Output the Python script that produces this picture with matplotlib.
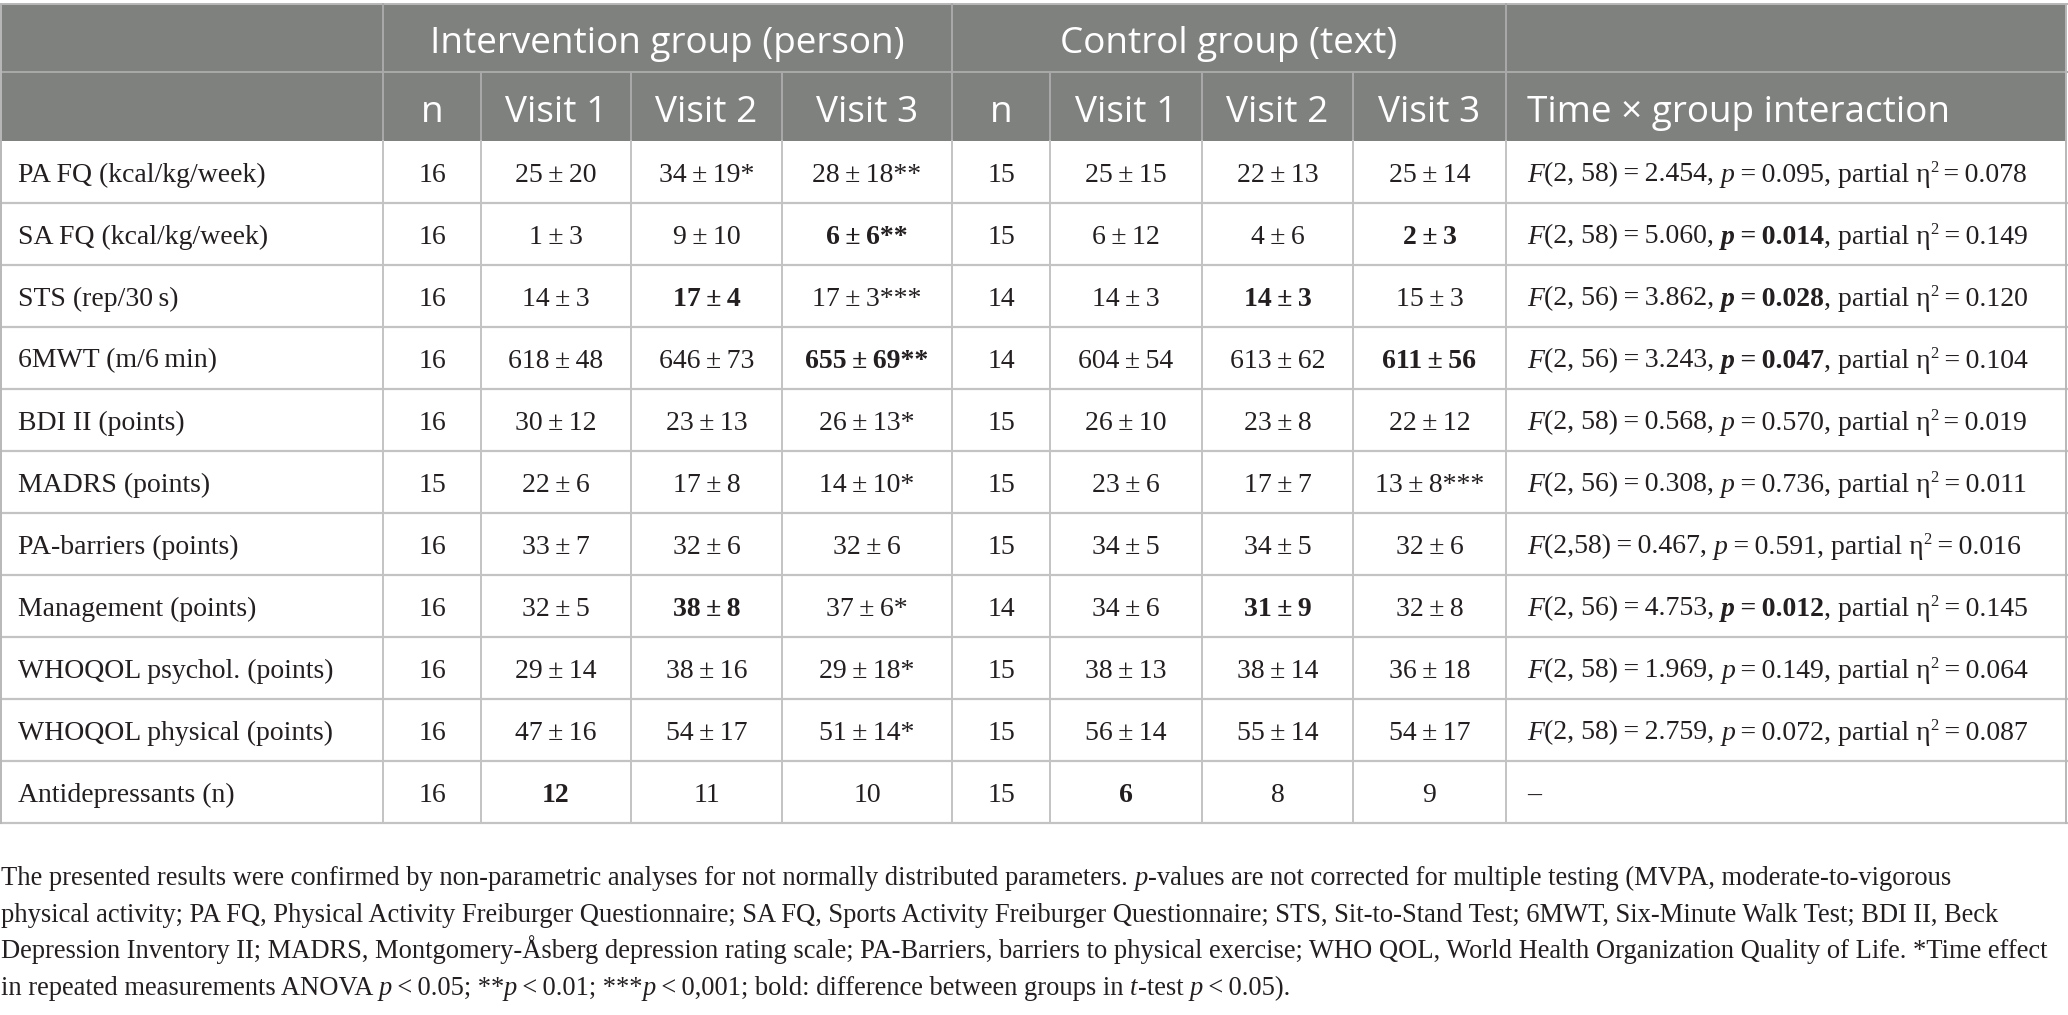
import matplotlib
matplotlib.use("Agg")
import matplotlib.pyplot as plt
from matplotlib.patches import Rectangle

### DATA ###

row_labels = ["PA FQ (kcal/kg/week)", "SA FQ (kcal/kg/week)", "STS (rep/30\u2009s)",
              "6MWT (m/6\u2009min)", "BDI II (points)", "MADRS (points)",
              "PA-barriers (points)", "Management (points)", "WHOQOL psychol. (points)",
              "WHOQOL physical (points)", "Antidepressants (n)"]

n_interv = ["16", "16", "16", "16", "16", "15", "16", "16", "16", "16", "16"]
interv_v1 = ["25 ± 20", "1 ± 3", "14 ± 3", "618 ± 48", "30 ± 12", "22 ± 6", "33 ± 7", "32 ± 5", "29 ± 14", "47 ± 16", "12"]
interv_v2 = ["34 ± 19*", "9 ± 10", "17 ± 4", "646 ± 73", "23 ± 13", "17 ± 8", "32 ± 6", "38 ± 8", "38 ± 16", "54 ± 17", "11"]
interv_v3 = ["28 ± 18**", "6 ± 6**", "17 ± 3***", "655 ± 69**", "26 ± 13*", "14 ± 10*", "32 ± 6", "37 ± 6*", "29 ± 18*", "51 ± 14*", "10"]

n_ctrl = ["15", "15", "14", "14", "15", "15", "15", "14", "15", "15", "15"]
ctrl_v1 = ["25 ± 15", "6 ± 12", "14 ± 3", "604 ± 54", "26 ± 10", "23 ± 6", "34 ± 5", "34 ± 6", "38 ± 13", "56 ± 14", "6"]
ctrl_v2 = ["22 ± 13", "4 ± 6", "14 ± 3", "613 ± 62", "23 ± 8", "17 ± 7", "34 ± 5", "31 ± 9", "38 ± 14", "55 ± 14", "8"]
ctrl_v3 = ["25 ± 14", "2 ± 3", "15 ± 3", "611 ± 56", "22 ± 12", "13 ± 8***", "32 ± 6", "32 ± 8", "36 ± 18", "54 ± 17", "9"]

# bold cells (row index, column index) -- column 0 = label column
bold_cells = [(1, 4), (1, 8), (2, 3), (2, 7), (3, 4), (3, 8), (7, 3), (7, 7), (10, 2), (10, 6)]

# time x group interaction
f_df = ["2, 58", "2, 58", "2, 56", "2, 56", "2, 58", "2, 56", "2,58", "2, 56", "2, 58", "2, 58"]
f_val = ["2.454", "5.060", "3.862", "3.243", "0.568", "0.308", "0.467", "4.753", "1.969", "2.759"]
p_val = ["0.095", "0.014", "0.028", "0.047", "0.570", "0.736", "0.591", "0.012", "0.149", "0.072"]
p_bold = [False, True, True, True, False, False, False, True, False, False]
eta2 = ["0.078", "0.149", "0.120", "0.104", "0.019", "0.011", "0.016", "0.145", "0.064", "0.087"]

group_headers = ["Intervention group (person)", "Control group (text)"]
col_headers = ["n", "Visit 1", "Visit 2", "Visit 3", "n", "Visit 1", "Visit 2", "Visit 3"]
inter_header = "Time × group interaction"

footnote = [
    [("The presented results were confirmed by non-parametric analyses for not normally distributed parameters. ", ""),
     ("p", "i"), ("-values are not corrected for multiple testing (MVPA, moderate-to-vigorous", "")],
    [("physical activity; PA FQ, Physical Activity Freiburger Questionnaire; SA FQ, Sports Activity Freiburger "
      "Questionnaire; STS, Sit-to-Stand Test; 6MWT, Six-Minute Walk Test; BDI II, Beck", "")],
    [("Depression Inventory II; MADRS, Montgomery-Åsberg depression rating scale; PA-Barriers, barriers to physical "
      "exercise; WHO QOL, World Health Organization Quality of Life. *Time effect", "")],
    [("in repeated measurements ANOVA ", ""), ("p", "i"), ("\u2009<\u20090.05; **", ""), ("p", "i"),
     ("\u2009<\u20090.01; ***", ""), ("p", "i"), ("\u2009<\u20090,001; bold: difference between groups in ", ""),
     ("t", "i"), ("-test ", ""), ("p", "i"), ("\u2009<\u20090.05).", "")],
]

### LAYOUT ###

W, H = 2068, 1015
col_x = [0, 383, 481, 631, 782, 952, 1050, 1202, 1353, 1506, W]
y_top, y_h1, y_h2 = 4, 72, 141
row_h = 62
n_rows = len(row_labels)
y_bottom = y_h2 + row_h * n_rows

serif = ["Liberation Serif", "DejaVu Serif"]
sans = ["Open Sans", "DejaVu Sans"]
fs_body = 20
fs_note = 19.1
fs_head = 26.6
txt_col = "#231f20"
head_bg = "#7f817f"
head_line = "#a9aaa9"
grid_col = "#c3c3c3"

fig = plt.figure(figsize=(W / 100, H / 100), dpi=100)
ax = fig.add_axes([0, 0, 1, 1])
ax.set_xlim(0, W)
ax.set_ylim(H, 0)
ax.axis("off")
renderer = fig.canvas.get_renderer()


def style(code, size=fs_body):
    kw = dict(family=serif, fontsize=size, color=txt_col)
    if "i" in code:
        kw["fontstyle"] = "italic"
    if "b" in code:
        kw["fontweight"] = "bold"
    return kw


def text_width(s, kw):
    # measure with guards so leading/trailing spaces count
    t1 = ax.text(0, 0, "|" + s + "|", **kw)
    t2 = ax.text(0, 0, "||", **kw)
    w = t1.get_window_extent(renderer).width - t2.get_window_extent(renderer).width
    t1.remove()
    t2.remove()
    return w


def draw_runs(x, y, runs):
    for s, code, dy, size in runs:
        kw = style(code, size)
        ax.text(x, y + dy, s, ha="left", va="baseline", **kw)
        x += text_width(s, kw)
    return x


# header background
ax.add_patch(Rectangle((0, y_top), W - 2, y_h2 - y_top, facecolor=head_bg, edgecolor="none", zorder=0))
ax.plot([0, W], [y_top, y_top], color="#b8b8b8", lw=1.4)
ax.plot([0, W], [y_h1, y_h1], color=head_line, lw=1.4)
for xv in [col_x[1], col_x[5], col_x[9]]:
    ax.plot([xv, xv], [y_top, y_h1], color=head_line, lw=1.4)
for xv in col_x[1:-1]:
    ax.plot([xv, xv], [y_h1, y_h2], color=head_line, lw=1.4)

# body grid
for i in range(1, n_rows + 1):
    yy = y_h2 + i * row_h
    ax.plot([0, W], [yy, yy], color=grid_col, lw=1.6)
for xv in col_x[1:-1]:
    ax.plot([xv, xv], [y_h2, y_bottom], color=grid_col, lw=1.4)
# outer left / right borders
for xv in [0.8, W - 2]:
    ax.plot([xv, xv], [y_top, y_bottom], color="#b8b8b8", lw=1.4)

# header text
ax.text((col_x[1] + col_x[5]) / 2, 53, group_headers[0], ha="center", va="baseline",
        family=sans, fontsize=fs_head, color="white")
ax.text((col_x[5] + col_x[9]) / 2, 53, group_headers[1], ha="center", va="baseline",
        family=sans, fontsize=fs_head, color="white")
for j, h in enumerate(col_headers):
    ax.text((col_x[j + 1] + col_x[j + 2]) / 2, 122, h, ha="center", va="baseline",
            family=sans, fontsize=fs_head, color="white")
ax.text(col_x[9] + 21, 122, inter_header, ha="left", va="baseline",
        family=sans, fontsize=fs_head, color="white")

# body text
columns = [n_interv, interv_v1, interv_v2, interv_v3, n_ctrl, ctrl_v1, ctrl_v2, ctrl_v3]
for i in range(n_rows):
    yb = y_h2 + i * row_h + row_h / 2 + 9.5
    ax.text(18, yb, row_labels[i], ha="left", va="baseline", **style(""))
    for j, col in enumerate(columns):
        code = "b" if (i, j + 1) in bold_cells else ""
        s = col[i].replace(" ± ", "\u2009±\u2009")
        ax.text((col_x[j + 1] + col_x[j + 2]) / 2, yb, s, ha="center", va="baseline", **style(code))
    x0 = col_x[9] + 21
    if i < len(f_val):
        pc = "b" if p_bold[i] else ""
        runs = [("F", "i", 0, fs_body),
                ("(" + f_df[i] + ")\u2009=\u2009" + f_val[i] + ", ", "", 0, fs_body),
                ("p", "i" + pc, 0, fs_body),
                ("\u2009=\u2009" + p_val[i], pc, 0, fs_body),
                (", partial η", "", 0, fs_body),
                ("2", "", -10, 12),
                ("\u2009=\u2009" + eta2[i], "", 0, fs_body)]
        draw_runs(x0, yb, runs)
    else:
        ax.text(x0, yb, "–", ha="left", va="baseline", **style(""))

# footnote
for k, line in enumerate(footnote):
    yb = 885 + k * 36.7
    draw_runs(1, yb, [(s, c, 0, fs_note) for s, c in line])

fig.savefig("out.png", dpi=100)
